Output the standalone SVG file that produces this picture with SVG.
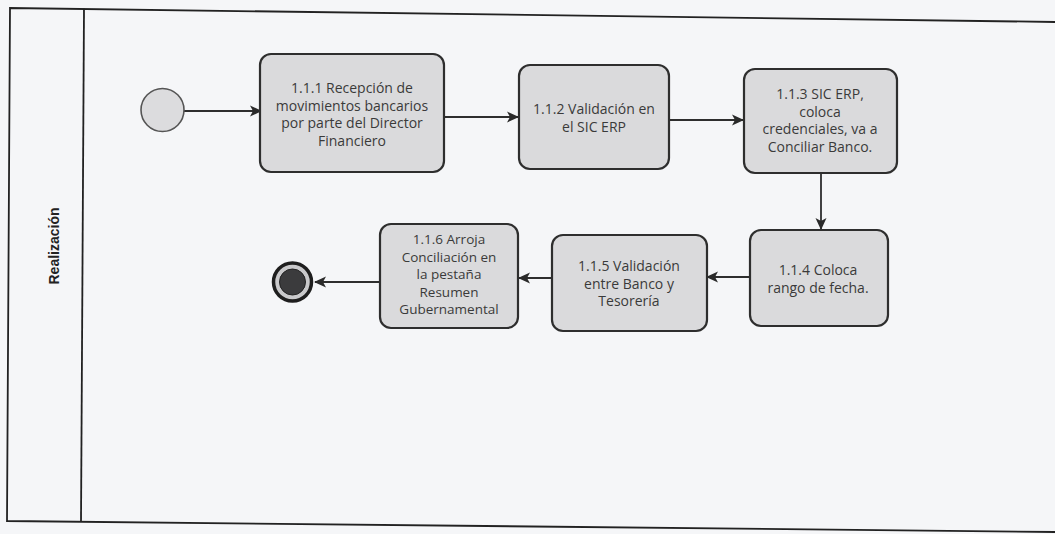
<svg xmlns="http://www.w3.org/2000/svg" width="1055" height="534" viewBox="0 0 1055 534">
<defs>
<marker id="arr" markerWidth="12" markerHeight="12" refX="11" refY="6" orient="auto" markerUnits="userSpaceOnUse">
<path d="M0,0.5 L12,6 L0,11.5 L3,6 Z" fill="#2a2a2a"/>
</marker>
<style>
.task{fill:#dadadc;stroke:#2e2e2e;stroke-width:2.2}
.lbl{font-family:"Open Sans","Noto Sans","Liberation Sans",sans-serif;font-size:14px;fill:#3a3a3a;text-anchor:middle}
.sm{font-size:13.5px}
.flow{fill:none;stroke:#2e2e2e;stroke-width:1.8;marker-end:url(#arr)}
.frame{fill:none;stroke:#222;stroke-width:1.8}
</style>
</defs>
<rect x="0" y="0" width="1055" height="534" fill="#f5f6f8"/>
<g id="pool">
<polyline class="frame" points="1056,22 10,8 7,521 1056,532"/>
<line class="frame" x1="84" y1="8.8" x2="81" y2="522"/>
<text x="59" y="246" transform="rotate(-90 59 246)" font-family="'Liberation Sans',Arial,sans-serif" font-size="14" font-weight="bold" fill="#222" text-anchor="middle">Realización</text>
</g>
<g id="connectors">
<line class="flow" x1="184" y1="111" x2="261" y2="111"/>
<line class="flow" x1="444" y1="117" x2="518" y2="117"/>
<line class="flow" x1="669" y1="120" x2="743" y2="120"/>
<line class="flow" x1="821" y1="173" x2="821" y2="229"/>
<line class="flow" x1="750" y1="277" x2="707" y2="277"/>
<line class="flow" x1="552" y1="278" x2="519" y2="278"/>
<line class="flow" x1="380" y1="282" x2="315" y2="282"/>
</g>
<g id="start">
<circle cx="162.5" cy="110" r="21.5" fill="#dcdcde" stroke="#555" stroke-width="1.6"/>
</g>
<g id="t111">
<rect class="task" x="260" y="54" width="184" height="118" rx="11"/>
<text class="lbl" y="93"><tspan x="352">1.1.1 Recepción de</tspan><tspan x="352" dy="17.5">movimientos bancarios</tspan><tspan x="352" dy="17.5">por parte del Director</tspan><tspan x="352" dy="17.5">Financiero</tspan></text>
</g>
<g id="t112">
<rect class="task" x="519" y="65" width="150" height="104" rx="11"/>
<text class="lbl" y="114"><tspan x="594">1.1.2 Validación en</tspan><tspan x="594" dy="17.5">el SIC ERP</tspan></text>
</g>
<g id="t113">
<rect class="task" x="744" y="69" width="153" height="104" rx="11"/>
<text class="lbl" y="99"><tspan x="820">1.1.3 SIC ERP,</tspan><tspan x="820" dy="17.5">coloca</tspan><tspan x="820" dy="17.5">credenciales, va a</tspan><tspan x="820" dy="17.5">Conciliar Banco.</tspan></text>
</g>
<g id="t114">
<rect class="task" x="750" y="230" width="138" height="96" rx="11"/>
<text class="lbl" y="275"><tspan x="818">1.1.4 Coloca</tspan><tspan x="818" dy="17.5">rango de fecha.</tspan></text>
</g>
<g id="t115">
<rect class="task" x="552" y="235" width="155" height="96" rx="11"/>
<text class="lbl" y="271"><tspan x="629">1.1.5 Validación</tspan><tspan x="629" dy="17.5">entre Banco y</tspan><tspan x="629" dy="17.5">Tesorería</tspan></text>
</g>
<g id="t116">
<rect class="task" x="380" y="224" width="138" height="104" rx="11"/>
<text class="lbl sm" y="244"><tspan x="449">1.1.6 Arroja</tspan><tspan x="449" dy="17.5">Conciliación en</tspan><tspan x="449" dy="17.5">la pestaña</tspan><tspan x="449" dy="17.5">Resumen</tspan><tspan x="449" dy="17.5">Gubernamental</tspan></text>
</g>
<g id="end">
<circle cx="292.5" cy="282" r="19" fill="#c9c9cb" stroke="#1e1e1e" stroke-width="3.5"/>
<circle cx="292.5" cy="282" r="13" fill="#3b3b3d" stroke="#222" stroke-width="1"/>
</g>
</svg>
